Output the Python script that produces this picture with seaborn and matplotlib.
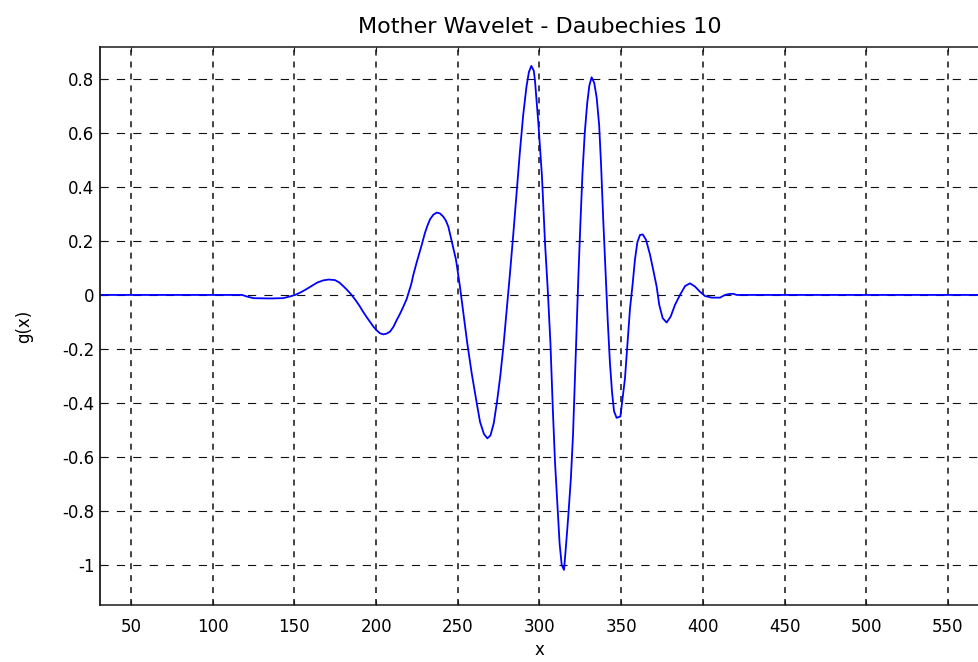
import matplotlib
matplotlib.use("Agg")
import matplotlib.pyplot as plt
import seaborn as sns
import pandas as pd

# Sample positions and wavelet amplitude g(x)
x_vals = [
    31, 118, 121, 125, 135, 143, 147, 150.4, 154, 157.5, 161, 164, 167.7, 171,
    174.8, 177.5, 180, 182.5, 185, 187.5, 190.1, 192, 194.2, 196.3, 198.3, 200.3,
    202.4, 204.4, 206.5, 208.5, 210.6, 212.6, 214.6, 216.7, 218.7, 220, 221.5,
    222.8, 224.8, 226.5, 227.9, 229.9, 231.5, 233, 235, 237.1, 239, 241.1, 242.7,
    244.2, 246.3, 248.9, 251.3, 253.4, 255.8, 258.5, 261.6, 263.6, 266, 268.1,
    270, 272, 274, 276, 278, 280, 282, 284, 286, 288, 290, 292, 293.5, 295,
    296.5, 297.2, 299.3, 301.5, 303.4, 305, 306.7, 308.2, 309.5, 311, 312.3,
    313.6, 315, 316.2, 317.6, 319.2, 320.5, 321.6, 322.7, 323.8, 325, 326.3,
    327.7, 329.2, 330.5, 331.9, 333.5, 335, 336.5, 337.7, 339, 340.4, 341.8,
    343.1, 344.4, 345.6, 347.2, 349.5, 350.9, 352.3, 353.7, 355.4, 357, 358.4,
    359.9, 361.5, 363.2, 365.2, 367.6, 369.6, 371.7, 373.3, 375.4, 377.8, 380.3,
    382.9, 386, 389.1, 392.1, 395.2, 398.2, 401.3, 405.4, 410.5, 413.5, 416.6,
    418.6, 420.7, 569,
]
g_vals = [
    0.0, 0.0, -0.006, -0.012, -0.013, -0.012, -0.006, 0.0, 0.010, 0.022, 0.035,
    0.046, 0.054, 0.057, 0.055, 0.046, 0.032, 0.017, 0.0, -0.020, -0.043, -0.062,
    -0.082, -0.100, -0.117, -0.131, -0.142, -0.146, -0.143, -0.136, -0.118,
    -0.093, -0.070, -0.043, -0.015, 0.010, 0.040, 0.075, 0.120, 0.155, 0.185,
    0.230, 0.258, 0.280, 0.297, 0.305, 0.302, 0.290, 0.275, 0.253, 0.198, 0.130,
    0.031, -0.068, -0.179, -0.290, -0.401, -0.470, -0.515, -0.531, -0.520,
    -0.475, -0.395, -0.300, -0.185, -0.050, 0.085, 0.228, 0.380, 0.530, 0.665,
    0.770, 0.825, 0.848, 0.830, 0.796, 0.636, 0.440, 0.190, 0.025, -0.180,
    -0.430, -0.620, -0.780, -0.920, -1.000, -1.018, -0.930, -0.820, -0.680,
    -0.520, -0.330, -0.130, 0.070, 0.260, 0.450, 0.600, 0.710, 0.775, 0.806,
    0.785, 0.730, 0.630, 0.480, 0.280, 0.090, -0.100, -0.250, -0.360, -0.430,
    -0.455, -0.450, -0.380, -0.310, -0.190, -0.050, 0.040, 0.130, 0.195, 0.222,
    0.224, 0.204, 0.150, 0.093, 0.031, -0.037, -0.086, -0.102, -0.080, -0.037,
    0.0, 0.033, 0.043, 0.031, 0.012, -0.004, -0.010, -0.010, 0.0, 0.004, 0.004,
    0.0, 0.0,
]
x_ticks = [50, 100, 150, 200, 250, 300, 350, 400, 450, 500, 550]
y_ticks = [-1, -0.8, -0.6, -0.4, -0.2, 0, 0.2, 0.4, 0.6, 0.8]
y_tick_labels = ["-1", "-0.8", "-0.6", "-0.4", "-0.2", "0", "0.2", "0.4", "0.6", "0.8"]

sns.set_theme(style="white")
plt.rcParams["font.family"] = ["DejaVu Sans"]
plt.rcParams["lines.scale_dashes"] = False
plt.rcParams["text.color"] = "black"
plt.rcParams["axes.labelcolor"] = "black"

df = pd.DataFrame({"x": x_vals, "g": g_vals})

fig = plt.figure(figsize=(9.79, 6.62), dpi=100, facecolor="white")
ax = fig.add_axes([100 / 979, 57 / 662, 1 - 100 / 979, (605 - 47) / 662])
ax.set_facecolor("white")

sns.lineplot(data=df, x="x", y="g", ax=ax, color="#0000ff", linewidth=1.3,
             estimator=None, sort=False)

ax.set_xlim(31, 569)
ax.set_ylim(-1.148, 0.918)
ax.set_xticks(x_ticks)
ax.set_yticks(y_ticks)
ax.set_yticklabels(y_tick_labels)

ax.xaxis.grid(True, color="#111111", linewidth=1.1, linestyle=(0, (4.3, 4.3)))
ax.yaxis.grid(True, color="#111111", linewidth=0.8, linestyle=(0, (5.9, 5.9)))

for side in ("left", "bottom", "top"):
    ax.spines[side].set_visible(True)
    ax.spines[side].set_color("#1a1a1a")
ax.spines["left"].set_linewidth(1.3)
ax.spines["bottom"].set_linewidth(1.1)
ax.spines["top"].set_linewidth(1.1)
ax.spines["right"].set_visible(False)

ax.tick_params(axis="both", direction="in", length=3.5, width=0.8,
               colors="#1a1a1a", labelcolor="black", labelsize=12)
ax.tick_params(axis="x", top=True, bottom=True, pad=9)
ax.tick_params(axis="y", left=True, right=False, pad=4)

ax.set_title("Mother Wavelet - Daubechies 10", fontsize=16, pad=10, color="black")
ax.set_xlabel("x", fontsize=12, labelpad=4)
ax.set_ylabel("g(x)", fontsize=12, labelpad=21)

fig.savefig("out.png", dpi=100, facecolor="white")
